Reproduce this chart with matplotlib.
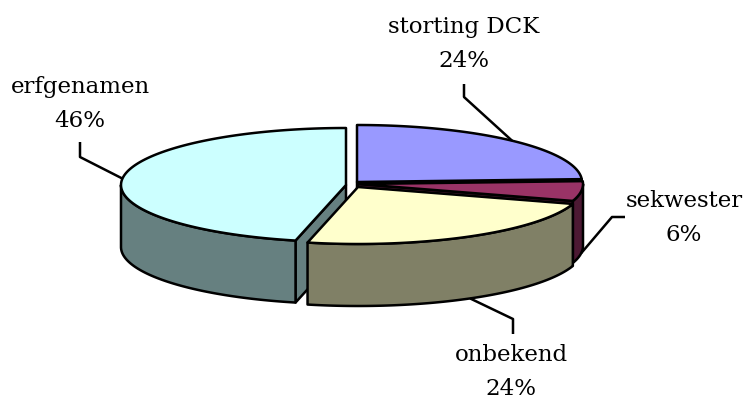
import numpy as np
import matplotlib.pyplot as plt
from matplotlib.patches import Polygon

# slice data, clockwise from 12 o'clock
labels = ["storting DCK", "sekwester", "onbekend", "erfgenamen"]
values = [24.2, 5.6, 23.8, 46.4]
top_colors = ["#9999FF", "#993366", "#FFFFCC", "#CCFFFF"]
side_colors = ["#66669A", "#4C1933", "#808066", "#668080"]

# layout (pixel units)
cx, cy = 357, 185
A, B, D = 225, 57, 62
offsets = [(0, -2), (1, 0), (1, 3), (-11, 1)]
draw_order = [0, 1, 3, 2]  # back to front
label_pos = [(464, 44), (684, 218), (511, 372), (80, 104)]
elbows = [[(464, 98), (464, 85)], [(612, 218), (625, 218)],
          [(513, 320), (513, 335)], [(80, 158), (80, 143)]]

fig = plt.figure(figsize=(7.46, 4.02), dpi=100)
ax = fig.add_axes([0, 0, 1, 1])
ax.set_xlim(0, 746)
ax.set_ylim(402, 0)
ax.axis("off")

lw = 1.8


def rim(x0, y0, t):
    return x0 + A * np.cos(t), y0 - B * np.sin(t)


def arc(x0, y0, t1, t2, n=120):
    ts = np.radians(np.linspace(t1, t2, n))
    xs, ys = rim(x0, y0, ts)
    return list(zip(xs, ys))


def poly(pts, fc):
    ax.add_patch(Polygon(pts, closed=True, facecolor=fc, edgecolor="black",
                         linewidth=lw, joinstyle="round"))


total = sum(values)
starts, ends = [], []
ang = 90.0
for v in values:
    starts.append(ang)
    ang -= v / total * 360
    ends.append(ang)

for i in draw_order:
    x0, y0 = cx + offsets[i][0], cy + offsets[i][1]
    s, e = starts[i], ends[i]
    # radial walls facing the viewer
    for t, vis in ((s, np.cos(np.radians(s)) < -1e-6), (e, np.cos(np.radians(e)) > 1e-6)):
        if vis:
            rx, ry = rim(x0, y0, np.radians(t))
            poly([(x0, y0), (rx, ry), (rx, ry + D), (x0, y0 + D)], side_colors[i])
    # outer wall, front half only
    for lo, hi in ((-180, 0), (-540, -360)):
        a1, a2 = max(e, lo), min(s, hi)
        if a2 > a1:
            top = arc(x0, y0, a2, a1)
            bot = [(x, y + D) for x, y in top][::-1]
            poly(top + bot, side_colors[i])
    # top face
    poly([(x0, y0)] + arc(x0, y0, s, e), top_colors[i])

# labels with leader lines
for i in range(len(values)):
    x0, y0 = cx + offsets[i][0], cy + offsets[i][1]
    mid = (starts[i] + ends[i]) / 2
    ax_, ay_ = rim(x0, y0, np.radians(mid))
    if np.sin(np.radians(mid)) < 0:
        ay_ += D
    pts = [(ax_, ay_)] + elbows[i]
    ax.plot([p[0] for p in pts], [p[1] for p in pts], color="black",
            linewidth=lw, solid_capstyle="butt")
    pct = round(values[i] / total * 100)
    ax.text(label_pos[i][0], label_pos[i][1], f"{labels[i]}\n{pct}%",
            ha="center", va="center", multialignment="center",
            fontsize=16.5, family="DejaVu Serif", linespacing=1.7)

fig.savefig("out.png", dpi=100)
